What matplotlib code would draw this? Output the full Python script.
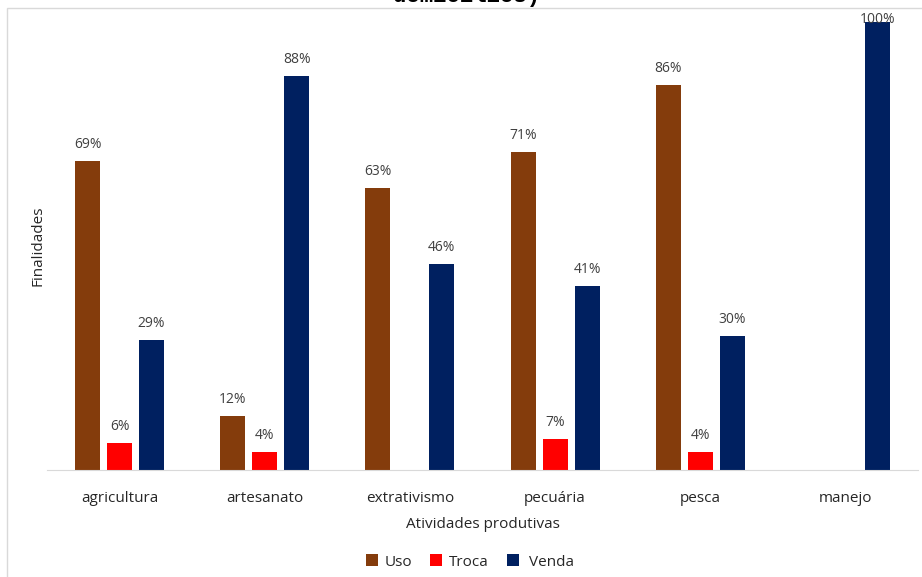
import matplotlib.pyplot as plt
import numpy as np
from matplotlib.patches import Rectangle

plt.rcParams["font.family"] = ["Open Sans", "DejaVu Sans"]

atividades = ["agricultura", "artesanato", "extrativismo", "pecuária", "pesca", "manejo"]
uso = [69, 12, 63, 71, 86, np.nan]
troca = [6, 4, np.nan, 7, 4, np.nan]
venda = [29, 88, 46, 41, 30, 100]

series = [("Uso", uso, "#843C0C"), ("Troca", troca, "#FF0000"), (" Venda", venda, "#002060")]

fig = plt.figure(figsize=(9.22, 5.77), dpi=100)
ax = fig.add_axes([47 / 922, 107 / 577, 871 / 922, 448 / 577])

x = np.arange(len(atividades))
width = 0.172
offsets = [-0.22, 0.0, 0.22]

for (name, vals, color), off in zip(series, offsets):
    vals = np.array(vals, dtype=float)
    bars = ax.bar(x + off, vals, width, color=color, label=name)
    for b, v in zip(bars, vals):
        if np.isnan(v):
            continue
        # labels near the top are pushed down onto the bar
        ax.text(b.get_x() + b.get_width() / 2, min(v + 2.0, 98.8), f"{v:.0f}%",
                ha="center", va="bottom", fontsize=10, color="#404040", clip_on=False)

ax.set_xlim(-0.5, len(atividades) - 0.5)
ax.set_ylim(0, 100)
ax.set_xticks(x)
ax.set_xticklabels(atividades, fontsize=11, color="#262626")
ax.tick_params(axis="x", length=0, pad=15)
ax.set_yticks([])
for s in ["top", "right", "left"]:
    ax.spines[s].set_visible(False)
ax.spines["bottom"].set_color("#d9d9d9")

ax.set_xlabel("Atividades produtivas", fontsize=11, color="#262626", labelpad=8)
ax.set_ylabel("Finalidades", fontsize=11, color="#262626", labelpad=1)

fig.legend(loc="center", bbox_to_anchor=(470 / 922, 1 - 562 / 577), ncol=3, frameon=False,
           fontsize=11, handlelength=0.8, handleheight=0.8, handletextpad=0.4,
           columnspacing=1.2, labelcolor="#262626")

# chart frame, partly cut by the image edges
fig.patches.append(Rectangle((7 / 922, -0.05), 1.1, 1 - 8 / 577 + 0.05,
                             transform=fig.transFigure, fill=False,
                             edgecolor="#d9d9d9", linewidth=1))

fig.text(467 / 922, 1 - 2 / 577, "domicílios)", ha="center", va="baseline",
         fontsize=16, fontweight="bold", family="Liberation Mono", color="#000000")

fig.savefig("out.png", dpi=100)
